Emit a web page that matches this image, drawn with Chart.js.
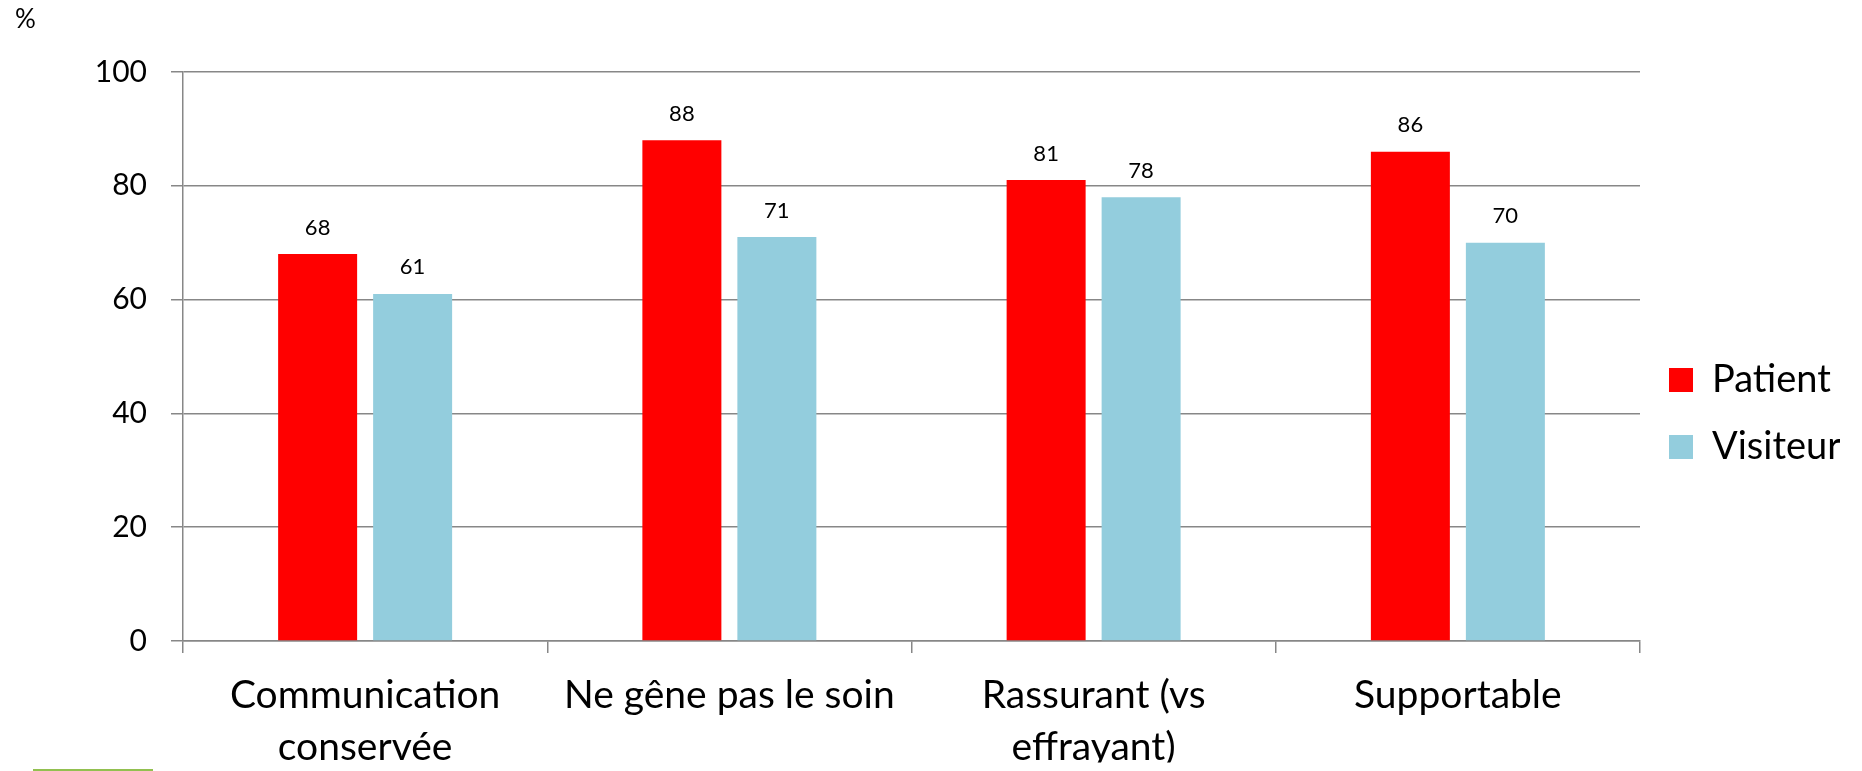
<!DOCTYPE html>
<html lang="fr">
<head>
<meta charset="utf-8">
<title>Patient / Visiteur</title>
<script src="https://cdn.jsdelivr.net/npm/chart.js@4.4.1/dist/chart.umd.min.js"></script>
<style>
  html, body { margin: 0; padding: 0; background: #ffffff; }
  #wrap { position: relative; width: 1862px; height: 771px; overflow: hidden; }
  #deco { position: absolute; left: 33px; top: 769px; width: 120px; height: 2px; background: #92C050; }
</style>
</head>
<body>
<div id="wrap">
  <canvas id="chart"></canvas>
  <div id="deco"></div>
</div>
<script>
// ---- Data ----
const categories = [
  ['Communication', 'conservée'],
  ['Ne gêne pas le soin'],
  ['Rassurant (vs', 'effrayant)'],
  ['Supportable']
];
const seriesNames = ['Patient', 'Visiteur'];
const patientValues = [68, 88, 81, 86];
const visiteurValues = [61, 71, 78, 70];
const yTickValues = [0, 20, 40, 60, 80, 100];
const unitLabel = '%';

// ---- Styles ----
const RED = '#FF0000';
const BLUE = '#93CDDD';
const GRID = '#878787';
const FONT = 'Lato';

Chart.defaults.font.family = FONT;
Chart.defaults.color = '#000000';

const valueLabels = {
  id: 'valueLabels',
  afterDatasetsDraw(chart) {
    const ctx = chart.ctx;
    ctx.save();
    ctx.font = '22px ' + FONT;
    ctx.fillStyle = '#000000';
    ctx.textAlign = 'center';
    ctx.textBaseline = 'alphabetic';
    chart.data.datasets.forEach((ds, di) => {
      const meta = chart.getDatasetMeta(di);
      meta.data.forEach((bar, i) => {
        ctx.fillText(String(ds.data[i]), bar.x, bar.y - 19.5);
      });
    });
    ctx.restore();
  }
};

new Chart(document.getElementById('chart'), {
  type: 'bar',
  data: {
    labels: categories,
    datasets: [
      { label: seriesNames[0], data: patientValues, backgroundColor: RED, borderWidth: 0,
        categoryPercentage: 0.5216, barPercentage: 0.8316 },
      { label: seriesNames[1], data: visiteurValues, backgroundColor: BLUE, borderWidth: 0,
        categoryPercentage: 0.5216, barPercentage: 0.8316 }
    ]
  },
  options: {
    responsive: true,
    maintainAspectRatio: false,
    animation: false,
    devicePixelRatio: 1,
    layout: { padding: { left: 15, top: 0, right: 22, bottom: 8.5 } },
    plugins: {
      tooltip: { enabled: false },
      title: {
        display: true,
        text: unitLabel,
        align: 'start',
        color: '#000000',
        font: { size: 26, weight: 'normal', family: FONT, lineHeight: 1.2 },
        padding: { top: 4.4, bottom: 36.4 }
      },
      legend: {
        display: true,
        position: 'right',
        fullSize: false,
        maxWidth: 200,
        title: { display: true, text: '', font: { size: 10, lineHeight: 1.2 }, padding: { top: 0, bottom: 102 } },
        labels: {
          color: '#000000',
          font: { size: 38, family: FONT },
          boxWidth: 24,
          boxHeight: 24,
          padding: 29
        }
      }
    },
    scales: {
      x: {
        offset: true,
        afterFit(scale) { scale.height = 121.5; },
        grid: {
          display: true,
          offset: true,
          drawOnChartArea: false,
          drawTicks: true,
          tickLength: 12,
          color: GRID,
          lineWidth: 1.5
        },
        border: { display: true, color: GRID, width: 1.5 },
        ticks: {
          color: '#000000',
          font: { size: 39, family: FONT, lineHeight: 52 / 39 },
          padding: 16,
          maxRotation: 0,
          minRotation: 0,
          autoSkip: false
        }
      },
      y: {
        min: 0,
        max: 100,
        afterFit(scale) { scale.width = 168; },
        afterBuildTicks(scale) { scale.ticks = yTickValues.map(v => ({ value: v })); },
        grid: {
          color: GRID,
          lineWidth: 1.5,
          drawTicks: true,
          tickLength: 12
        },
        border: { display: true, color: GRID, width: 1.5 },
        ticks: {
          color: '#000000',
          font: { size: 30, family: FONT },
          padding: 24
        }
      }
    }
  },
  plugins: [valueLabels]
});
</script>
</body>
</html>
